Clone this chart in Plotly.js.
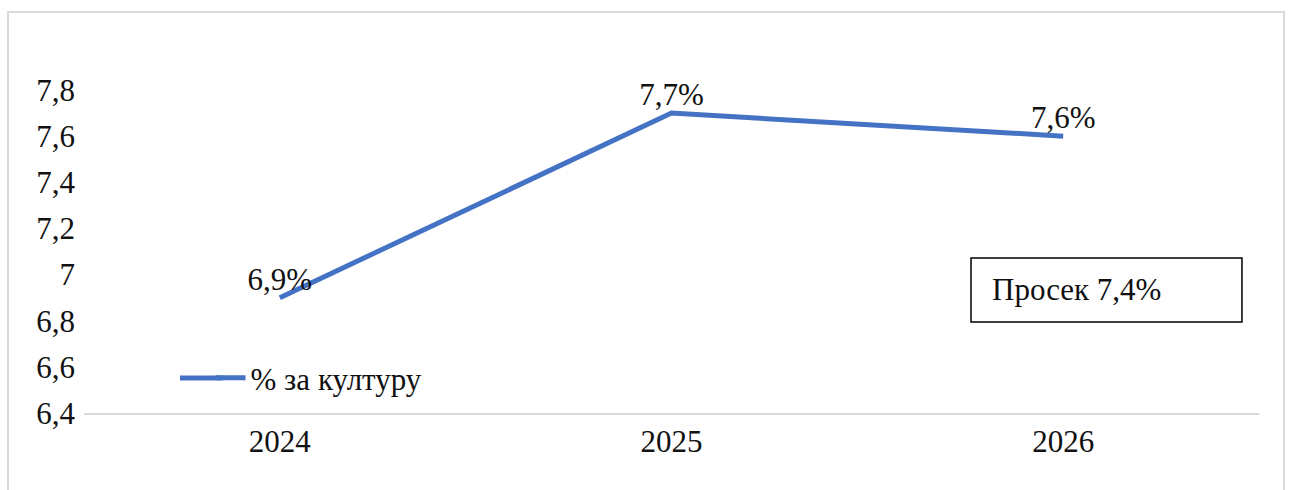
<!DOCTYPE html>
<html>
<head>
<meta charset="utf-8">
<script src="https://cdn.plot.ly/plotly-3.0.1.min.js"></script>
</head>
<body style="margin:0">
<div id="chart"></div>
<script>
const years = ['2024', '2025', '2026'];
const shares = [6.9, 7.7, 7.6];
const labels = ['6,9%', '7,7%', '7,6%'];
const seriesName = '% за културу';
const averageText = 'Просек 7,4%';
const yTicks = [6.4, 6.6, 6.8, 7.0, 7.2, 7.4, 7.6, 7.8];
const yTickLabels = ['6,4', '6,6', '6,8', '7', '7,2', '7,4', '7,6', '7,8'];

function f(fam) { return { family: fam, size: 31, color: '#111111' }; }

const trace = {
  x: years,
  y: shares,
  type: 'scatter',
  mode: 'lines+text',
  name: seriesName,
  text: labels,
  textposition: 'top center',
  textfont: f('Times New Roman'),
  line: { color: '#4472C4', width: 5 },
  cliponaxis: false
};

const layout = {
  width: 1289,
  height: 490,
  margin: { l: 84, r: 30, t: 90, b: 77 },
  showlegend: true,
  legend: {
    x: 0.1077, y: 0.108, xanchor: 'left', yanchor: 'middle',
    bgcolor: 'rgba(0,0,0,0)', font: f('Times New Roman')
  },
  xaxis: {
    type: 'category',
    range: [-0.5, 2.5],
    showgrid: false,
    zeroline: false,
    showline: true,
    linecolor: '#d9d9d9',
    linewidth: 2,
    ticks: '',
    tickfont: f('Liberation Serif'),
    fixedrange: true
  },
  yaxis: {
    range: [6.4, 7.8],
    tickvals: yTicks,
    ticktext: yTickLabels,
    showgrid: false,
    zeroline: false,
    showline: false,
    ticks: '',
    ticklabelstandoff: 8,
    tickfont: f('Times New Roman'),
    fixedrange: true
  },
  shapes: [{
    type: 'rect', xref: 'paper', yref: 'paper',
    x0: 0.7549, x1: 0.9855, y0: 0.2817, y1: 0.4799,
    line: { color: '#000', width: 1.5 }, fillcolor: 'rgba(0,0,0,0)'
  }, {
    type: 'rect', xref: 'paper', yref: 'paper',
    x0: -0.0647, x1: 1.0213, y0: -0.254, y1: 1.2415,
    line: { color: '#d9d9d9', width: 2 }, fillcolor: 'rgba(0,0,0,0)'
  }, {
    type: 'line', xref: 'paper', yref: 'paper',
    x0: 0.0817, x1: 0.118, y0: 0.108, y1: 0.108,
    line: { color: '#4472C4', width: 5 }
  }],
  annotations: [{
    xref: 'paper', yref: 'paper', x: 0.771, y: 0.381,
    xanchor: 'left', yanchor: 'middle',
    text: averageText, showarrow: false, font: f('Times New Roman')
  }]
};

Plotly.newPlot('chart', [trace], layout, { displayModeBar: false });
</script>
</body>
</html>
